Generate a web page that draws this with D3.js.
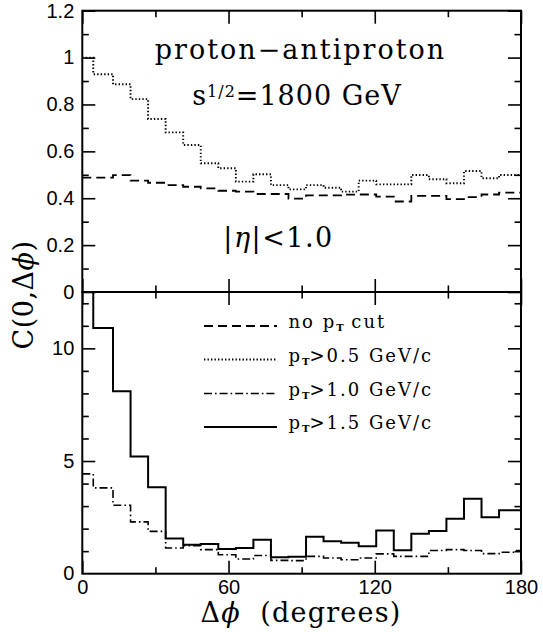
<!DOCTYPE html>
<html><head><meta charset="utf-8">
<script src="https://cdn.jsdelivr.net/npm/d3@7"></script>
<style>body{margin:0;background:#fff} text{white-space:pre}</style>
</head><body>
<svg id="c" width="543" height="632"></svg>
<script>
// ---- data ----
const binEdges = [0,4.5,12.6,19.8,27,34.2,41.4,48.6,55.8,63,70.2,77.4,84.6,91.8,99,106.2,113.4,120.6,127.8,135,142.2,149.4,156.6,163.8,171,178.2,180];
const noCut = [0.488,0.488,0.499,0.475,0.466,0.456,0.449,0.442,0.432,0.428,0.418,0.418,0.398,0.412,0.412,0.415,0.416,0.407,0.386,0.41,0.41,0.396,0.405,0.416,0.424,0.424];
const pt05  = [1.0,0.929,0.886,0.823,0.738,0.681,0.627,0.549,0.528,0.471,0.502,0.456,0.438,0.456,0.445,0.428,0.475,0.459,0.459,0.499,0.481,0.464,0.516,0.485,0.499,0.499];
const pt10  = [4.43,3.81,3.04,2.3,1.88,1.14,1.24,1.07,0.84,0.65,0.81,0.59,0.58,0.77,0.70,0.62,0.70,0.88,0.77,0.77,1.03,1.07,1.03,0.89,0.95,1.03];
const pt15  = [14,10.9,8.1,5.2,3.84,1.56,1.29,1.32,1.1,1.14,1.51,0.73,0.75,1.64,1.44,1.37,1.22,1.92,1.04,1.77,1.89,2.44,3.33,2.51,2.81,2.81];
const xMajorTicks = [0,60,120,180];
const xMinorTicks = [30,90,150];
const xTickLabels = ["0","60","120","180"];
const topMajorTicks = [0,0.2,0.4,0.6,0.8,1.0,1.2];
const topTickLabels = ["0","0.2","0.4","0.6","0.8","1","1.2"];
const topMinorTicks = [0.1,0.3,0.5,0.7,0.9,1.1];
const botMajorTicks = [0,5,10];
const botTickLabels = ["0","5","10"];
const botMinorTicks = [1,2,3,4,6,7,8,9,11,12];
const legendPrefix = ["no ","","",""];
const legendSuffix = [" cut",">0.5 GeV/c",">1.0 GeV/c",">1.5 GeV/c"];

// ---- layout ----
const L=82.3, R=521, T=10.7, M=292, B=573.7;
const MAJ=13, MIN=6.5;
const svg = d3.select("#c");
const x = d3.scaleLinear().domain([0,180]).range([L,R]);
const yTop = d3.scaleLinear().domain([0,1.2]).range([M,T]);
const yBot = d3.scaleLinear().domain([0,12.5]).range([B,M]);

const styles = {
  dashed:{w:1.8,dash:"9,5"},
  dotted:{w:1.9,dash:"1.4,2.1"},
  dashdot:{w:1.6,dash:"8,3,1.6,3"},
  solid:{w:2,dash:null}
};

const defs = svg.append("defs");
defs.append("clipPath").attr("id","clipTop").append("rect").attr("x",L).attr("y",T).attr("width",R-L).attr("height",M-T);
defs.append("clipPath").attr("id","clipBot").append("rect").attr("x",L).attr("y",M).attr("width",R-L).attr("height",B-M);

function hist(vals, yScale, st, clip){
  const pts = vals.map((v,i)=>[binEdges[i],v]);
  pts.push([binEdges[binEdges.length-1], vals[vals.length-1]]);
  const line = d3.line().x(d=>x(d[0])).y(d=>yScale(d[1])).curve(d3.curveStepAfter);
  svg.append("path").attr("d",line(pts)).attr("fill","none").attr("stroke","#000")
    .attr("stroke-width",st.w).attr("stroke-dasharray",st.dash).attr("clip-path",`url(#${clip})`);
}
hist(noCut,yTop,styles.dashed,"clipTop");
hist(pt05,yTop,styles.dotted,"clipTop");
hist(pt10,yBot,styles.dashdot,"clipBot");
hist(pt15,yBot,styles.solid,"clipBot");

// ---- axes ----
function styleAxis(g){
  g.select(".domain").remove();
  g.selectAll("line").attr("stroke","#000").attr("stroke-width",1.6);
  g.selectAll("text").attr("font-family","'Liberation Sans', Arial, sans-serif").attr("font-size",20).attr("fill","#000");
}
function xAxes(yPos, showLabels, dir){
  const mk = dir==="up" ? d3.axisBottom : d3.axisTop;
  const g1 = svg.append("g").attr("transform",`translate(0,${yPos})`)
    .call(mk(x).tickValues(xMajorTicks).tickSize(-MAJ).tickPadding(6)
      .tickFormat((d,i)=> showLabels ? xTickLabels[i] : ""));
  styleAxis(g1);
  const g2 = svg.append("g").attr("transform",`translate(0,${yPos})`)
    .call(mk(x).tickValues(xMinorTicks).tickSize(-MIN).tickFormat(""));
  styleAxis(g2);
}
xAxes(T,false,"down");
xAxes(M,false,"up");
xAxes(M,false,"down");
xAxes(B,true,"up");

function yAxes(yScale, major, labels, minor){
  const g1 = svg.append("g").attr("transform",`translate(${L},0)`)
    .call(d3.axisLeft(yScale).tickValues(major).tickSize(-MAJ).tickPadding(8)
      .tickFormat((d,i)=>labels[i]));
  styleAxis(g1);
  const g2 = svg.append("g").attr("transform",`translate(${L},0)`)
    .call(d3.axisLeft(yScale).tickValues(minor).tickSize(-MIN).tickFormat(""));
  styleAxis(g2);
  const g3 = svg.append("g").attr("transform",`translate(${R},0)`)
    .call(d3.axisRight(yScale).tickValues(major).tickSize(-MAJ).tickFormat(""));
  styleAxis(g3);
  const g4 = svg.append("g").attr("transform",`translate(${R},0)`)
    .call(d3.axisRight(yScale).tickValues(minor).tickSize(-MIN).tickFormat(""));
  styleAxis(g4);
}
yAxes(yTop, topMajorTicks, topTickLabels, topMinorTicks);
yAxes(yBot, botMajorTicks.filter(v=>v>0), botTickLabels.slice(1), botMinorTicks);

// frames
svg.append("rect").attr("x",L).attr("y",T).attr("width",R-L).attr("height",M-T).attr("fill","none").attr("stroke","#000").attr("stroke-width",2);
svg.append("rect").attr("x",L).attr("y",M).attr("width",R-L).attr("height",B-M).attr("fill","none").attr("stroke","#000").attr("stroke-width",2);
svg.append("text").attr("x",L-8).attr("y",yBot(0)).attr("dy","0.32em").attr("text-anchor","end")
  .attr("font-family","'Liberation Sans', Arial, sans-serif").attr("font-size",20).text(botTickLabels[0]);

const serif = "'DejaVu Serif', serif";
svg.append("text").attr("x",300.5).attr("y",59).attr("text-anchor","middle").attr("font-family",serif)
  .attr("font-size",27).attr("letter-spacing",2).text("proton\u2212antiproton");
const s2 = svg.append("text").attr("x",297).attr("y",104.5).attr("text-anchor","middle").attr("font-family",serif)
  .attr("font-size",27).attr("letter-spacing",1);
s2.append("tspan").text("s");
s2.append("tspan").attr("dy",-8).attr("font-size",16).text("1/2");
s2.append("tspan").attr("dy",8).text("=1800 GeV");
const eta = svg.append("text").attr("x",278.5).attr("y",246.5).attr("text-anchor","middle").attr("font-family",serif)
  .attr("font-size",27).attr("letter-spacing",1.5);
eta.append("tspan").text("|");
eta.append("tspan").attr("font-style","italic").text("\u03b7");
eta.append("tspan").text("|<1.0");

// axis titles
const yt = svg.append("text").attr("transform","translate(33,295) rotate(-90)").attr("text-anchor","middle")
  .attr("font-family",serif).attr("font-size",27).attr("letter-spacing",0.5);
yt.append("tspan").text("C(0,\u0394");
yt.append("tspan").attr("font-style","italic").text("\u03d5");
yt.append("tspan").text(")");
const xt = svg.append("text").attr("x",301).attr("y",622).attr("text-anchor","middle")
  .attr("font-family",serif).attr("font-size",27).attr("letter-spacing",1.2);
xt.append("tspan").text("\u0394");
xt.append("tspan").attr("font-style","italic").text("\u03d5");
xt.append("tspan").text("  (degrees)");

// legend
const legStyles = [styles.dashed, styles.dotted, styles.dashdot, styles.solid];
const legY = [326, 359.5, 393.5, 427];
legStyles.forEach((st,i)=>{
  svg.append("line").attr("x1",204).attr("x2",277).attr("y1",legY[i]).attr("y2",legY[i])
    .attr("stroke","#000").attr("stroke-width",st.w).attr("stroke-dasharray",st.dash);
  const t = svg.append("text").attr("x",288.5).attr("y",legY[i]+2).attr("font-family",serif)
    .attr("font-size",18).attr("letter-spacing",2);
  t.append("tspan").text(legendPrefix[i]+"p");
  t.append("tspan").attr("dy",3).attr("font-size",10).attr("font-weight","bold").attr("letter-spacing",0).text("T");
  t.append("tspan").attr("dy",-3).text(legendSuffix[i]);
});
</script>
</body></html>
